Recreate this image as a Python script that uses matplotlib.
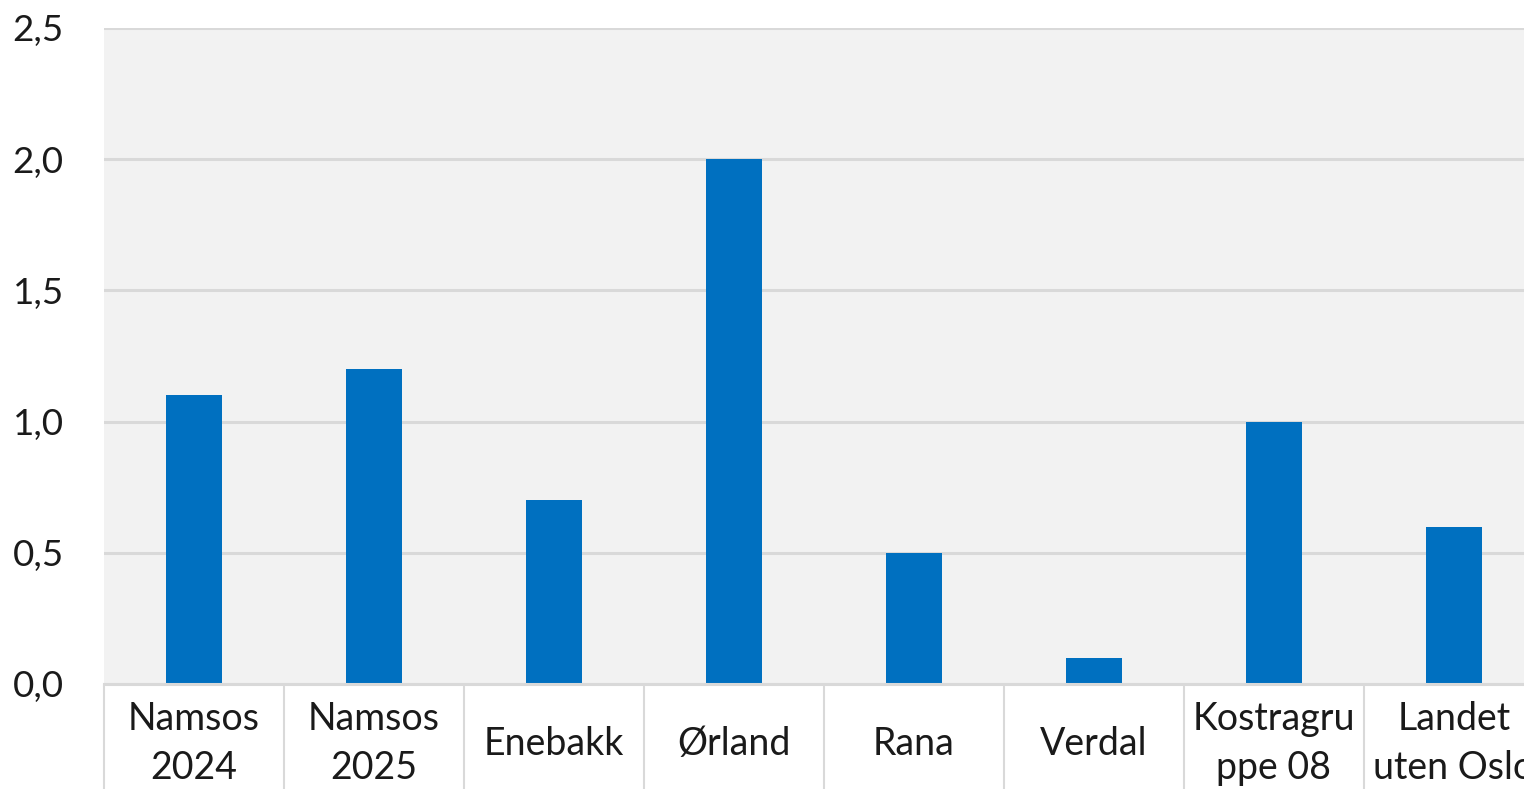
import matplotlib.pyplot as plt
import numpy as np

categories = ['Namsos\n2024', 'Namsos\n2025', 'Enebakk', 'Ørland', 'Rana',
              'Verdal', 'Kostragru\nppe 08', 'Landet\nuten Oslo']
values = [1.1, 1.2, 0.7, 2.0, 0.5, 0.1, 1.0, 0.6]
yticks = [0.0, 0.5, 1.0, 1.5, 2.0, 2.5]

plt.rcParams['font.family'] = ['Lato', 'DejaVu Sans']

W, H = 1524, 789
fig = plt.figure(figsize=(W / 100, H / 100), dpi=100)
# plot area runs past the right edge of the picture (cropped like the original)
left, right, top, bottom = 104, 1544, 28, 684
ax = fig.add_axes([left / W, 1 - bottom / H, (right - left) / W, (bottom - top) / H])
ax.set_facecolor('#F2F2F2')

x = np.arange(len(categories))
ax.bar(x, values, width=0.31, color='#0070C0', zorder=3)

ax.set_xlim(-0.5, len(categories) - 0.5)
ax.set_ylim(0, 2.5)
ax.set_yticks(yticks)
ax.set_yticklabels([f'{v:.1f}'.replace('.', ',') for v in yticks])
ax.yaxis.grid(True, color='#D9D9D9', linewidth=2.2, zorder=1)
ax.tick_params(axis='y', length=0, pad=29, labelsize=26.5, labelcolor='#1a1a1a')

ax.set_xticks(x)
ax.set_xticklabels(categories, linespacing=1.45)
ax.set_xticks(np.arange(len(categories) + 1) - 0.5, minor=True)
ax.tick_params(axis='x', which='major', length=0, pad=43, labelsize=27, labelcolor='#1a1a1a')
ax.tick_params(axis='x', which='minor', length=90, width=1.5, color='#D9D9D9', direction='out')
plt.setp(ax.get_xticklabels(), va='center')

for s in ['top', 'right', 'left']:
    ax.spines[s].set_visible(False)
ax.spines['bottom'].set_color('#D9D9D9')
ax.spines['bottom'].set_linewidth(2.2)
ax.spines['bottom'].set_zorder(4)

fig.savefig('out.png', dpi=100, facecolor='white')
